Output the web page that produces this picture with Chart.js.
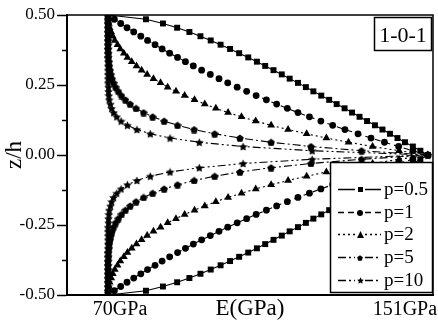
<!DOCTYPE html>
<html>
<head>
<meta charset="utf-8">
<script src="https://cdn.jsdelivr.net/npm/chart.js@4.4.1/dist/chart.umd.min.js"></script>
<style>
  html, body { margin: 0; padding: 0; background: #fff; }
  #wrap { width: 438px; height: 325px; }
</style>
</head>
<body>
<div id="wrap"><canvas id="chart"></canvas></div>
<script>

// Data ------------------------------------------------------------------------------------

// z/h through the upper face, 0 -> 0.5 (lower face mirrors it)
var zHalf = [0.0000, 0.0152, 0.0303, 0.0455, 0.0606, 0.0758, 0.0909, 0.1061, 0.1212, 0.1364,
             0.1515, 0.1667, 0.1818, 0.1970, 0.2121, 0.2273, 0.2424, 0.2576, 0.2727, 0.2879,
             0.3030, 0.3182, 0.3333, 0.3485, 0.3636, 0.3788, 0.3939, 0.4091, 0.4242, 0.4394,
             0.4545, 0.4697, 0.4848, 0.5000];

// E (GPa) at each zHalf position, one array per power-law index
var eP05 = [151.0, 149.1, 147.2, 145.2, 143.3, 141.4, 139.5, 137.6, 135.6, 133.7,
            131.8, 129.9, 127.9, 126.0, 124.0, 122.0, 120.1, 118.1, 116.0, 114.0,
            111.9, 109.8, 107.7, 105.5, 103.2, 100.9, 98.5, 96.0, 93.4, 90.6,
            87.5, 83.9, 79.6, 70.0];
var eP1 = [151.0, 147.2, 143.6, 140.0, 136.6, 133.3, 130.0, 126.9, 123.9, 121.0,
           118.1, 115.4, 112.7, 110.1, 107.5, 105.1, 102.7, 100.3, 98.1, 95.9,
           93.7, 91.6, 89.6, 87.6, 85.6, 83.7, 81.9, 80.0, 78.3, 76.5,
           74.8, 73.2, 71.6, 70.0];
var eP2 = [151.0, 143.7, 137.0, 130.9, 125.3, 120.3, 115.6, 111.3, 107.4, 103.8,
           100.4, 97.3, 94.5, 91.9, 89.4, 87.2, 85.1, 83.3, 81.5, 79.9,
           78.5, 77.2, 76.0, 74.9, 74.0, 73.1, 72.4, 71.7, 71.2, 70.8,
           70.4, 70.2, 70.0, 70.0];
var eP5 = [151.0, 134.2, 121.4, 111.3, 103.4, 97.0, 91.8, 87.6, 84.2, 81.3,
           79.0, 77.1, 75.6, 74.4, 73.4, 72.6, 71.9, 71.4, 71.0, 70.7,
           70.5, 70.3, 70.2, 70.1, 70.1, 70.0, 70.0, 70.0, 70.0, 70.0,
           70.0, 70.0, 70.0, 70.0];
var eP10 = [151.0, 121.7, 104.2, 93.1, 85.7, 80.7, 77.3, 74.9, 73.3, 72.2,
            71.4, 70.9, 70.6, 70.3, 70.2, 70.1, 70.1, 70.0, 70.0, 70.0,
            70.0, 70.0, 70.0, 70.0, 70.0, 70.0, 70.0, 70.0, 70.0, 70.0,
            70.0, 70.0, 70.0, 70.0];

var seriesLabels = ['p=0.5', 'p=1', 'p=2', 'p=5', 'p=10'];

var yTicks = [-0.5, -0.25, 0, 0.25, 0.5];
var yMinorTicks = [-0.375, -0.125, 0.125, 0.375];
var xLabelValues = [70, 151];
var xLabelTexts = ['70GPa', '151GPa'];
var panelTag = '1-0-1';

// Constants -------------------------------------------------------------------------------

var SERIF = "'Liberation Serif', 'Times New Roman', serif";
var X_MIN = 59.6;
var X_MAX = 152.3;

var LINE_DASHES = [[], [6, 4], [2, 3], [8, 3, 2, 3], [8, 3, 2, 3, 2, 3]];
var MARKER_SHAPES = ['square', 'circle', 'triangle', 'pentagon', 'star'];
var POINT_RADII = [4.2, 3.4, 4.5, 4, 4.5];
var LEGEND_MARKER_SIZES = [5, 6, 7, 6, 7];
var X_LABEL_SHIFT = [12, -23];

// Functions -------------------------------------------------------------------------------

function makeMarker(shape, size) {
    var c = document.createElement('canvas');
    c.width = size;
    c.height = size;
    var g = c.getContext('2d');
    var m = size / 2;
    g.fillStyle = '#000';
    g.beginPath();
    if (shape === 'square') {
        g.rect(0, 0, size, size);
    } else if (shape === 'circle') {
        g.arc(m, m, m, 0, Math.PI * 2);
    } else if (shape === 'triangle') {
        g.moveTo(m, 0);
        g.lineTo(size, size);
        g.lineTo(0, size);
    } else {
        var n = shape === 'star' ? 10 : 5;
        for (var i = 0; i < n; i++) {
            var r = (shape === 'star' && i % 2) ? m * 0.5 : m;
            var a = -Math.PI / 2 + i * 2 * Math.PI / n;
            var px = m + r * Math.cos(a);
            var py = m + 0.1 * m + r * Math.sin(a);
            if (i) g.lineTo(px, py); else g.moveTo(px, py);
        }
    }
    g.closePath();
    g.fill();
    return c;
}

// lower face (z < 0) then upper face, meeting at the mid-plane
function profilePoints(eHalf) {
    var pts = [];
    for (var k = zHalf.length - 1; k >= 0; k--) pts.push({ x: eHalf[k], y: -zHalf[k] });
    for (var j = 1; j < zHalf.length; j++) pts.push({ x: eHalf[j], y: zHalf[j] });
    return pts;
}

var seriesValues = [eP05, eP1, eP2, eP5, eP10];
// built-in shapes where chart.js has them, small bitmaps for pentagon and star
var plotMarkers = ['rect', 'circle', 'triangle', makeMarker('pentagon', 8), makeMarker('star', 9)];
var legendMarkers = MARKER_SHAPES.map(function (s, i) { return makeMarker(s, LEGEND_MARKER_SIZES[i]); });

var datasets = seriesValues.map(function (vals, i) {
    return {
        label: seriesLabels[i],
        data: profilePoints(vals),
        showLine: true,
        borderColor: '#000',
        backgroundColor: '#000',
        borderWidth: 1.1,
        borderDash: LINE_DASHES[i],
        pointStyle: plotMarkers[i],
        pointRadius: POINT_RADII[i],
        pointHoverRadius: POINT_RADII[i],
        pointBorderWidth: 0,
        tension: 0
    };
});

var decorPlugin = {
    id: 'decor',
    afterDraw: function (chart) {
        var ctx = chart.ctx;
        var area = chart.chartArea;
        var xs = chart.scales.x;
        var ys = chart.scales.y;
        ctx.save();
        ctx.strokeStyle = '#000';
        ctx.fillStyle = '#000';

        // top and right frame
        ctx.lineWidth = 1.5;
        ctx.beginPath();
        ctx.moveTo(area.left, area.top);
        ctx.lineTo(area.right, area.top);
        ctx.lineTo(area.right, area.bottom);
        ctx.stroke();

        // minor ticks on z/h
        yMinorTicks.forEach(function (v) {
            var y = Math.round(ys.getPixelForValue(v)) + 0.5;
            ctx.beginPath();
            ctx.moveTo(area.left - 5, y);
            ctx.lineTo(area.left, y);
            ctx.stroke();
        });

        // end labels of the modulus axis
        ctx.font = '20px ' + SERIF;
        ctx.textAlign = 'center';
        ctx.textBaseline = 'alphabetic';
        xLabelValues.forEach(function (v, i) {
            ctx.fillText(xLabelTexts[i], xs.getPixelForValue(v) + X_LABEL_SHIFT[i], 315);
        });

        // panel tag
        ctx.fillStyle = '#fff';
        ctx.fillRect(374.5, 17.5, 57, 33);
        ctx.strokeRect(374.5, 17.5, 57, 33);
        ctx.fillStyle = '#000';
        ctx.font = '22px ' + SERIF;
        ctx.fillText(panelTag, 403, 42);

        // legend
        ctx.fillStyle = '#fff';
        ctx.fillRect(330.5, 162.5, 102, 130);
        ctx.strokeRect(330.5, 162.5, 102, 130);
        ctx.font = '19px ' + SERIF;
        ctx.textAlign = 'left';
        ctx.textBaseline = 'middle';
        chart.data.datasets.forEach(function (ds, i) {
            var y = Math.round(189 + i * 22.7) + 0.5;
            ctx.lineWidth = 1.5;
            ctx.setLineDash(ds.borderDash);
            ctx.beginPath();
            ctx.moveTo(338, y);
            ctx.lineTo(355, y);
            ctx.moveTo(365, y);
            ctx.lineTo(381, y);
            ctx.stroke();
            ctx.setLineDash([]);
            var mk = legendMarkers[i];
            ctx.drawImage(mk, Math.round(360 - mk.width / 2), Math.round(y - mk.height / 2));
            ctx.fillStyle = '#000';
            ctx.fillText(ds.label, 384, y + 1);
        });
        ctx.restore();
    }
};

Chart.defaults.font.family = SERIF;
Chart.defaults.color = '#000';

var chart = new Chart(document.getElementById('chart').getContext('2d'), {
    type: 'scatter',
    data: { datasets: datasets },
    options: {
        responsive: true,
        maintainAspectRatio: false,
        animation: false,
        events: [],
        layout: { padding: { top: 15, right: 5, left: 0, bottom: 0 } },
        plugins: {
            legend: { display: false },
            tooltip: { enabled: false }
        },
        scales: {
            x: {
                type: 'linear',
                min: X_MIN,
                max: X_MAX,
                ticks: { display: false },
                grid: { display: false },
                border: { display: true, color: '#000', width: 2 },
                title: {
                    display: true,
                    text: 'E(GPa)',
                    font: { size: 23 },
                    padding: { top: 0, bottom: 2 }
                },
                afterFit: function (scale) { scale.height = 30; }
            },
            y: {
                type: 'linear',
                min: -0.5,
                max: 0.5,
                afterBuildTicks: function (scale) {
                    scale.ticks = yTicks.map(function (v) { return { value: v }; });
                },
                ticks: {
                    font: { size: 17 },
                    padding: 2,
                    callback: function (v) { return Number(v).toFixed(2); }
                },
                grid: {
                    drawOnChartArea: false,
                    drawTicks: true,
                    tickLength: 10,
                    tickWidth: 1.5,
                    tickColor: '#000'
                },
                border: { display: true, color: '#000', width: 2 },
                title: {
                    display: true,
                    text: 'z/h',
                    font: { size: 23 },
                    padding: { top: 1, bottom: 0 }
                },
                afterFit: function (scale) { scale.width = 67; }
            }
        }
    },
    plugins: [decorPlugin]
});
</script>
</body>
</html>
